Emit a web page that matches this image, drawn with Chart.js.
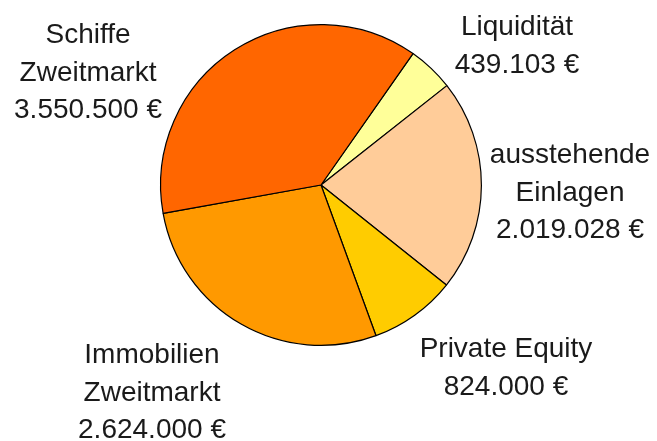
<!DOCTYPE html>
<html>
<head>
<meta charset="utf-8">
<script src="https://cdn.jsdelivr.net/npm/chart.js@4/dist/chart.umd.min.js"></script>
<style>
  html, body { margin: 0; padding: 0; background: #fff; }
  #wrap { width: 657px; height: 441px; position: relative; }
</style>
</head>
<body>
<div id="wrap"><canvas id="pie"></canvas></div>
<script>
// --- data ---
const categories = ['Liquidität', 'ausstehende Einlagen', 'Private Equity', 'Immobilien Zweitmarkt', 'Schiffe Zweitmarkt'];
const amounts = [439103, 2019028, 824000, 2624000, 3550500];
const labelLines = [
    ['Liquidität', '439.103 €'],
    ['ausstehende', 'Einlagen', '2.019.028 €'],
    ['Private Equity', '824.000 €'],
    ['Immobilien', 'Zweitmarkt', '2.624.000 €'],
    ['Schiffe', 'Zweitmarkt', '3.550.500 €']
];

// --- style ---
const sliceColors = ['#FFFF99', '#FFCC99', '#FFCC00', '#FF9900', '#FF6600'];
// label anchor: centre x and baseline of first line
const labelAnchors = [
    { x: 517, y: 35 },
    { x: 570, y: 163 },
    { x: 506, y: 357 },
    { x: 152, y: 363 },
    { x: 88, y: 43 }
];
const lineHeight = 37.5;

// outside labels drawn as plain text
const outsideLabels = {
    id: 'outsideLabels',
    afterDraw(chart) {
        const ctx = chart.ctx;
        ctx.save();
        ctx.font = '28px "Liberation Sans", Arial, sans-serif';
        ctx.fillStyle = '#1a1a1a';
        ctx.textAlign = 'center';
        ctx.textBaseline = 'alphabetic';
        labelLines.forEach(function (lines, i) {
            const a = labelAnchors[i];
            lines.forEach(function (t, j) {
                ctx.fillText(t, a.x, a.y + j * lineHeight);
            });
        });
        ctx.restore();
    }
};

new Chart(document.getElementById('pie').getContext('2d'), {
    type: 'pie',
    data: {
        labels: categories,
        datasets: [{
            data: amounts,
            backgroundColor: sliceColors,
            borderColor: '#000',
            borderWidth: 1.2
        }]
    },
    options: {
        responsive: true,
        maintainAspectRatio: false,
        animation: false,
        rotation: 35,
        layout: { padding: { left: 160, right: 175, top: 24, bottom: 95 } },
        plugins: {
            legend: { display: false },
            tooltip: { enabled: false }
        }
    },
    plugins: [outsideLabels]
});
</script>
</body>
</html>
